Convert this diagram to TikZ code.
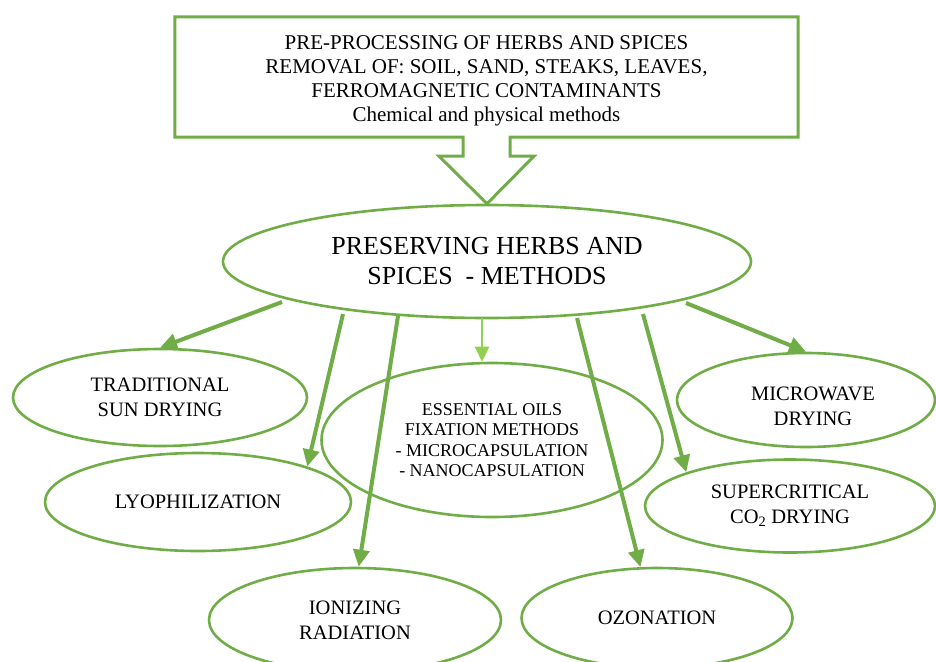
\documentclass[tikz,border=0pt]{standalone}
\usepackage{fontspec}
\setmainfont{Liberation Serif}
\usetikzlibrary{shapes.geometric,arrows.meta,calc}
\definecolor{gr}{HTML}{70AD47}
\definecolor{lgr}{HTML}{92D050}
\begin{document}
\begin{tikzpicture}[x=1pt,y=-1pt,
  oval/.style={ellipse,draw=gr,line width=2.6pt,inner sep=0pt,align=center,
    font=\fontsize{20.5}{25}\selectfont},
  arr/.style={draw=gr,line width=4pt,-{Triangle[length=17pt,width=16pt]}},
  larr/.style={draw=lgr,line width=2.6pt,-{Triangle[length=15pt,width=14pt]}},
]
\useasboundingbox (0,0) rectangle (936,661);
\clip (0,0) rectangle (936,661);

% top box
\node[draw=none,minimum width=623pt,minimum height=120pt,inner sep=0pt] (box) at (486.5,77) {};
\node[inner sep=0pt,align=center,font=\fontsize{21}{24}\selectfont] (boxtext) at (486.5,81)
  {PRE-PROCESSING OF HERBS AND SPICES\\REMOVAL OF:\ SOIL, SAND, STEAKS, LEAVES,\\FERROMAGNETIC CONTAMINANTS\\Chemical and physical methods};

% main ellipse
\node[oval,minimum width=528pt,minimum height=113pt,font=\fontsize{26}{30}\selectfont]
  (main) at (487,261.5) {PRESERVING HERBS AND\\SPICES\ \ - METHODS};

% box outline with block arrow
\draw[gr,line width=3pt,line join=miter]
  ($(box.south)+(23.5,0)$) -- (box.south east) -- (box.north east) -- (box.north west)
  -- (box.south west) -- ($(box.south)+(-23.5,0)$) -- ++(0,19) -- ++(-24,0)
  -- (main.north) -- ($(box.south)+(47.5,19)$) -- ($(box.south)+(23.5,19)$) -- cycle;

% method ellipses
\node[oval,minimum width=294pt,minimum height=97pt] (trad) at (160,397.5) {TRADITIONAL\\SUN DRYING};
\node[oval,minimum width=306pt,minimum height=98pt] (lyo) at (198,502) {LYOPHILIZATION};
\node[oval,minimum width=341pt,minimum height=154pt,font=\fontsize{18}{20.5}\selectfont]
  (ess) at (492,440) {ESSENTIAL OILS\\FIXATION METHODS\\- MICROCAPSULATION\\- NANOCAPSULATION};
\node[oval,minimum width=258pt,minimum height=94pt] (mw) at (806,400) {\hspace*{14pt}\rule{0pt}{26pt}MICROWAVE\\\hspace*{14pt}DRYING};
\node[oval,minimum width=290pt,minimum height=93pt] (sup) at (790,506) {SUPERCRITICAL\\CO\textsubscript{2} DRYING};
\node[oval,minimum width=292pt,minimum height=104pt] (ion) at (355,620) {IONIZING\\RADIATION};
\node[oval,minimum width=271pt,minimum height=100pt] (oz) at (657,618) {OZONATION};

% arrow starts
\coordinate (s1) at (282,302);
\coordinate (s2) at (343,314);
\coordinate (s3) at (398,316);
\coordinate (s4) at (482,318);
\coordinate (s5) at (577,318);
\coordinate (s6) at (643,314);
\coordinate (s7) at (686,303);

\draw[arr] (s1) -- (trad.north);
\draw[arr] (s2) -- (lyo.18);
\draw[arr] (s3) -- (ion.86);
\draw[larr] (s4) -- (s4 |- ess.north);
\draw[arr] (s5) -- (oz.108);
\draw[arr] (s6) -- (sup.162);
\draw[arr] (s7) -- (mw.north);
\end{tikzpicture}
\end{document}
